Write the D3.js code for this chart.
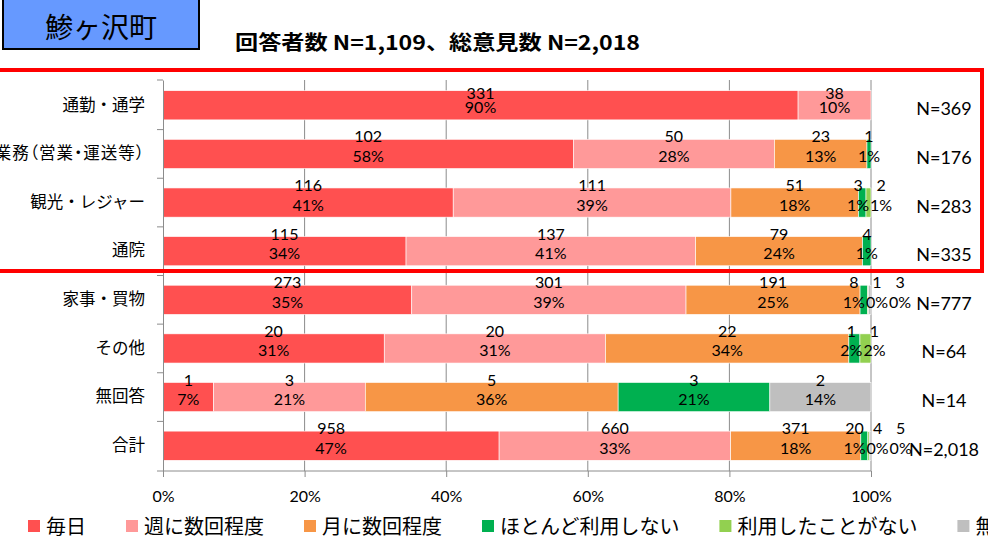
<!DOCTYPE html>
<html><head><meta charset="utf-8">
<script src="https://cdn.jsdelivr.net/npm/d3@7"></script>
<style>
body{margin:0;background:#fff;}
svg{display:block;}
</style></head>
<body>
<svg id="chart" width="988" height="540"></svg>
<script>
// ---- data ----
const categories = ["通勤・通学","業務（営業・運送等）","観光・レジャー","通院","家事・買物","その他","無回答","合計"];
const seriesNames = ["毎日","週に数回程度","月に数回程度","ほとんど利用しない","利用したことがない","無回答"];
const daily    = [331,102,116,115,273,20,1,958];
const weekly   = [38,50,111,137,301,20,3,660];
const monthly  = [0,23,51,79,191,22,5,371];
const rarely   = [0,1,3,4,8,1,3,20];
const never    = [0,0,2,0,1,1,0,4];
const noAnswer = [0,0,0,0,3,0,2,5];
const totals   = [369,176,283,335,777,64,14,2018];
const xTicks   = [0,0.2,0.4,0.6,0.8,1];
const titleText = "鯵ヶ沢町";
const subtitleText = "回答者数 N=1,109、総意見数 N=2,018";

const seriesValues = [daily, weekly, monthly, rarely, never, noAnswer];
const colors = ["#FF5050","#FF9999","#F79646","#00B050","#92D050","#BFBFBF"];
const latin = "Lato, 'Noto Sans CJK JP', sans-serif";
const jp = "'Noto Sans CJK JP', sans-serif";

const rows = categories.map((c,i)=>{
  const o = {cat:c, total: totals[i]};
  seriesNames.forEach((s,j)=>{ o[s] = seriesValues[j][i]; });
  return o;
});

const svg = d3.select("#chart");
const x0 = 163, x1 = 871, y0 = 80, y1 = 471;
const x = d3.scaleLinear().domain([0,1]).range([x0,x1]);
const y = d3.scaleBand().domain(categories).range([y0,y1]).paddingInner(0.4).paddingOuter(0.22);
const stack = d3.stack().keys(seriesNames).offset(d3.stackOffsetExpand);
const stacked = stack(rows);

// title box
svg.append("rect").attr("x",3).attr("y",-2).attr("width",196).attr("height",51)
  .attr("fill","#6699FF").attr("stroke","#000").attr("stroke-width",2);
svg.append("text").attr("x",101).attr("y",26).attr("text-anchor","middle")
  .attr("dominant-baseline","central").attr("font-family",jp).attr("font-size",28)
  .attr("fill","#000").text(titleText);
svg.append("text").attr("x",235).attr("y",41).attr("dominant-baseline","central")
  .attr("font-family",jp).attr("font-weight","bold").attr("font-size",20)
  .attr("textLength",405).attr("lengthAdjust","spacingAndGlyphs")
  .attr("fill","#000").text(subtitleText);

// gridlines
svg.append("g").selectAll("line").data(xTicks.filter(d=>d>0)).join("line")
  .attr("x1",d=>x(d)).attr("x2",d=>x(d)).attr("y1",y0).attr("y2",y1)
  .attr("stroke","#8C8C8C").attr("stroke-width",1);

// bars
const gBars = svg.append("g");
stacked.forEach((layer,j)=>{
  gBars.selectAll(null).data(layer.filter(d=>d[1]-d[0]>0)).join("rect")
    .attr("x",d=>x(d[0])).attr("width",d=>x(d[1])-x(d[0]))
    .attr("y",d=>y(d.data.cat)).attr("height",y.bandwidth())
    .attr("fill",colors[j]).attr("stroke","#fff").attr("stroke-width",0.6);
});

// left axis
const yAxis = d3.axisLeft(y).tickSize(0).tickPadding(18).tickFormat(d=>d);
const gy = svg.append("g").attr("transform",`translate(${x0},0)`).call(yAxis);
gy.select(".domain").attr("stroke","#8C8C8C");
gy.selectAll("text").attr("font-family",jp).attr("font-size",16.5).attr("fill","#000")
  .style("font-feature-settings",d=>d.indexOf("（")>=0 ? "'palt'" : "normal")
  .style("letter-spacing",d=>d.indexOf("（")>=0 ? "1px" : "normal");
// category separator ticks
const bounds = categories.map(c=>y(c)-y.step()*y.paddingInner()/2);
bounds[0] = y0; bounds.push(y1);
svg.append("g").selectAll("line").data(bounds).join("line")
  .attr("x1",x0-6).attr("x2",x0).attr("y1",d=>d).attr("y2",d=>d)
  .attr("stroke","#8C8C8C");

// bottom axis
const xAxis = d3.axisBottom(x).tickValues(xTicks).tickSize(6).tickPadding(14)
  .tickFormat(d3.format(".0%"));
const gx = svg.append("g").attr("transform",`translate(0,${y1})`).call(xAxis);
gx.select(".domain").attr("stroke","#8C8C8C").attr("d",`M${x0},0H${x1}`);
gx.selectAll(".tick line").attr("stroke","#8C8C8C");
gx.selectAll("text").attr("font-family",latin).attr("font-size",16).attr("fill","#000");

// data labels
const LFS = 16;
const gLab = svg.append("g").attr("font-family",latin).attr("font-size",LFS).attr("fill","#000");
const measure = svg.append("text").attr("font-family",latin).attr("font-size",LFS).attr("opacity",0);
function tw(s){ measure.text(s); return measure.node().getComputedTextLength(); }
rows.forEach((r,i)=>{
  const labs = [];
  stacked.forEach((layer,j)=>{
    const d = layer[i];
    const v = r[seriesNames[j]];
    if (v<=0) return;
    const pct = Math.round(v/r.total*100)+"%";
    const w = Math.max(tw(String(v)), tw(pct));
    const ideal = x((d[0]+d[1])/2);
    labs.push({v, pct, w, ideal, cx: ideal});
  });
  // forward push, grouping into clusters
  const clusters = [];
  labs.forEach((c,k)=>{
    if (k>0){
      const p = labs[k-1];
      const minC = p.cx + p.w/2 + c.w/2 + 1;
      if (c.cx < minC){ c.cx = minC; clusters[clusters.length-1].push(c); return; }
    }
    clusters.push([c]);
  });
  clusters.forEach(cl=>{
    if (cl.length<2) return;
    const shift = (d3.mean(cl,d=>d.ideal) - d3.mean(cl,d=>d.cx))/2;
    cl.forEach(d=>{ d.cx += shift; });
  });
  const cy = y(r.cat) + y.bandwidth()/2;
  const cyCount = Math.max(cy - 18, y0 + 12);
  labs.forEach(l=>{
    gLab.append("text").attr("x",l.cx).attr("y",cyCount).attr("text-anchor","middle")
      .attr("dominant-baseline","central").text(l.v);
    gLab.append("text").attr("x",l.cx).attr("y",cy+1.5).attr("text-anchor","middle")
      .attr("dominant-baseline","central").text(l.pct);
  });
  svg.append("text").attr("x",944).attr("y",cy+3).attr("text-anchor","middle")
    .attr("dominant-baseline","central").attr("font-family",latin).attr("font-size",18)
    .attr("fill","#000").text("N="+d3.format(",")(r.total));
});
measure.remove();

// red highlight frame
svg.append("rect").attr("x",-2).attr("y",70).attr("width",984).attr("height",201)
  .attr("fill","none").attr("stroke","#FF0000").attr("stroke-width",4);

// legend
const gLeg = svg.append("g");
let lx = 28;
seriesNames.forEach((s,j)=>{
  gLeg.append("rect").attr("x",lx).attr("y",520).attr("width",12).attr("height",12).attr("fill",colors[j]);
  const t = gLeg.append("text").attr("x",lx+18).attr("y",525).attr("dominant-baseline","central")
    .attr("font-family",jp).attr("font-size",20).attr("fill","#000").text(s);
  lx += 18 + t.node().getComputedTextLength() + 40;
});
</script>
</body></html>
